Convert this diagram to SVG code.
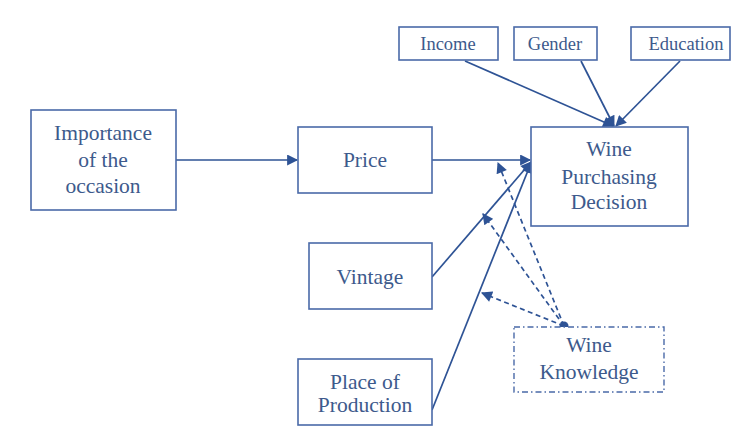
<svg xmlns="http://www.w3.org/2000/svg" width="732" height="426" viewBox="0 0 732 426">
<defs>
<style>
.box{fill:#fff;stroke:#4a6aa8;stroke-width:1.6}
.kb{fill:#fff;stroke:#4a6aa8;stroke-width:1.4;stroke-dasharray:6 3 1.5 3}
.t{font-family:"Liberation Serif","Times New Roman",serif;font-size:21.5px;fill:#3d5a8c;text-anchor:middle}
.ts{font-family:"Liberation Serif","Times New Roman",serif;font-size:18.5px;fill:#3d5a8c;text-anchor:middle}
.ln{stroke:#2e5395;stroke-width:1.7;fill:none}
.dl{stroke:#2e5395;stroke-width:1.7;fill:none;stroke-dasharray:5 3.5}
</style>
<marker id="ah" viewBox="0 0 10 10" refX="9" refY="5" markerWidth="12" markerHeight="11" markerUnits="userSpaceOnUse" orient="auto">
<path d="M0,0 L10,5 L0,10 z" fill="#2e5395"/>
</marker>
</defs>
<rect width="732" height="426" fill="#fff"/>
<g id="connectors">
<line class="ln" x1="176" y1="160" x2="297" y2="160" marker-end="url(#ah)"/>
<line class="ln" x1="432" y1="160" x2="530" y2="160" marker-end="url(#ah)"/>
<line class="ln" x1="432" y1="277" x2="531" y2="162" marker-end="url(#ah)"/>
<line class="ln" x1="432" y1="410" x2="531" y2="163" marker-end="url(#ah)"/>
<line class="ln" x1="465" y1="61" x2="613" y2="126" marker-end="url(#ah)"/>
<line class="ln" x1="581" y1="61" x2="614" y2="126" marker-end="url(#ah)"/>
<line class="ln" x1="680" y1="61" x2="616" y2="126" marker-end="url(#ah)"/>
<line class="dl" x1="564" y1="326" x2="498" y2="163" marker-end="url(#ah)"/>
<line class="dl" x1="564" y1="326" x2="483" y2="214" marker-end="url(#ah)"/>
<line class="dl" x1="564" y1="326" x2="482" y2="293" marker-end="url(#ah)"/>
<circle cx="564" cy="326" r="4.5" fill="#2e5395"/>
</g>
<g id="importance">
<rect class="box" x="31" y="110" width="145" height="100"/>
<text class="t" x="103" y="140">Importance</text>
<text class="t" x="103" y="167">of the</text>
<text class="t" x="103" y="193">occasion</text>
</g>
<g id="price">
<rect class="box" x="298" y="127" width="134" height="66"/>
<text class="t" x="365" y="167">Price</text>
</g>
<g id="vintage">
<rect class="box" x="309" y="243" width="123" height="66"/>
<text class="t" x="370" y="284">Vintage</text>
</g>
<g id="place">
<rect class="box" x="298" y="359" width="134" height="66"/>
<text class="t" x="365" y="389">Place of</text>
<text class="t" x="365" y="412">Production</text>
</g>
<g id="decision">
<rect class="box" x="531" y="127" width="157" height="99"/>
<text class="t" x="609" y="156">Wine</text>
<text class="t" x="609" y="184">Purchasing</text>
<text class="t" x="609" y="209">Decision</text>
</g>
<g id="income">
<rect class="box" x="399" y="27" width="99" height="33"/>
<text class="ts" x="448" y="50">Income</text>
</g>
<g id="gender">
<rect class="box" x="514" y="27" width="83" height="33"/>
<text class="ts" x="555" y="50">Gender</text>
</g>
<g id="education">
<rect class="box" x="631" y="27" width="99" height="33"/>
<text class="ts" x="686" y="50">Education</text>
</g>
<g id="knowledge">
<rect class="kb" x="514" y="327" width="150" height="65"/>
<text class="t" x="589" y="352">Wine</text>
<text class="t" x="589" y="379">Knowledge</text>
</g>
</svg>
